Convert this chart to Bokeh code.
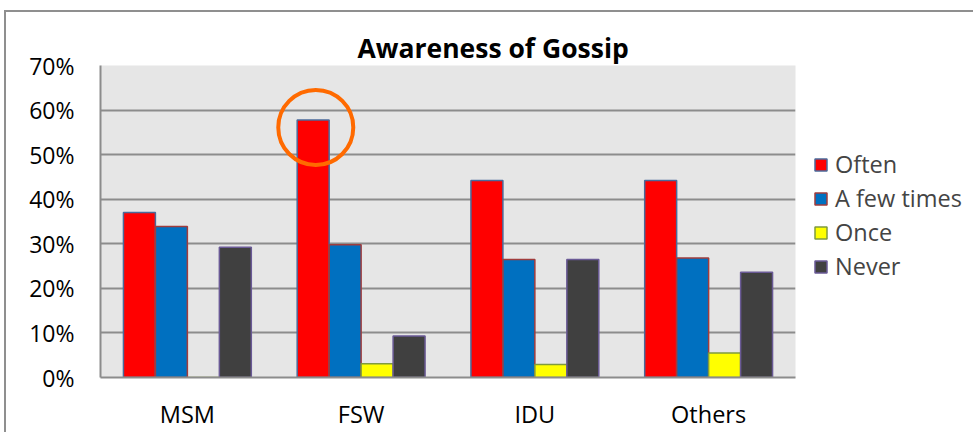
from bokeh.plotting import figure
from bokeh.models import ColumnDataSource, NumeralTickFormatter, Legend, LegendItem, Range1d
from bokeh.transform import dodge
from bokeh.embed import file_html
from bokeh.resources import INLINE

groups = ["MSM", "FSW", "IDU", "Others"]
often = [0.370, 0.578, 0.442, 0.442]
few_times = [0.339, 0.298, 0.265, 0.268]
once = [0.0, 0.031, 0.029, 0.055]
never = [0.292, 0.093, 0.265, 0.236]
series_names = ["Often", "A few times", "Once", "Never"]
y_ticks = [0, 0.1, 0.2, 0.3, 0.4, 0.5, 0.6, 0.7]

fills = ["#ff0000", "#0070c0", "#ffff00", "#404040"]
edges = ["#4a6a9a", "#a03c3c", "#7f9a3f", "#6a5a96"]
offsets = [-0.276, -0.092, 0.092, 0.276]

src = ColumnDataSource(dict(g=groups, often=often, few=few_times, once=once, never=never))

p = figure(x_range=groups, y_range=Range1d(0, 0.7),
           frame_width=695, frame_height=312,
           output_backend="svg", toolbar_location=None,
           min_border_left=94, min_border_right=170, min_border_top=53, min_border_bottom=40)
p.styles = {"border-top": "2px solid #8f8f8f", "border-left": "2px solid #8f8f8f",
            "margin-left": "4px", "margin-top": "10px"}
p.x_range.range_padding = 0
p.background_fill_color = "#e6e6e6"
p.border_fill_color = "white"
p.outline_line_color = None

renderers = []
for col, fc, ec, off in zip(["often", "few", "once", "never"], fills, edges, offsets):
    r = p.vbar(x=dodge("g", off, range=p.x_range), top=col, width=0.184, source=src,
               fill_color=fc, line_color=ec, line_width=1.5)
    renderers.append(r)

# highlight circle around FSW "Often"
csrc = ColumnDataSource(dict(x=[groups[1]], y=[often[1] - 0.017]))
p.scatter(x=dodge("x", offsets[0] + 0.015, range=p.x_range), y="y", source=csrc,
          marker="circle", size=75, fill_color=None, line_color="#ff6a00", line_width=4)

p.xgrid.grid_line_color = None
p.ygrid.grid_line_color = "#8c8c8c"
p.ygrid.grid_line_width = 2
p.yaxis.ticker = y_ticks
p.yaxis.formatter = NumeralTickFormatter(format="0%")

for ax in (p.xaxis[0], p.yaxis[0]):
    ax.axis_line_color = "#8c8c8c"
    ax.axis_line_width = 2
    ax.major_tick_line_color = None
    ax.minor_tick_line_color = None
    ax.major_label_text_font = "Open Sans"
    ax.major_label_text_color = "black"
p.yaxis.major_label_text_font_size = "23px"
p.xaxis.major_label_text_font_size = "23.5px"
p.yaxis.major_label_standoff = 20
p.xaxis.major_label_standoff = 14

p.title.text = "Awareness of Gossip"
p.title.text_font = "Open Sans"
p.title.text_font_style = "bold"
p.title.text_font_size = "26.5px"
p.title.text_color = "black"
p.title.align = "left"
p.title.offset = 257
p.title.standoff = 0

items = [LegendItem(label=n, renderers=[r]) for n, r in zip(series_names, renderers)]
legend = Legend(items=items, location=(18, 95), orientation="vertical",
                label_text_font="Open Sans", label_text_font_size="23.5px",
                glyph_width=15, glyph_height=15, label_standoff=7, spacing=2,
                padding=0, margin=0, border_line_color=None, background_fill_alpha=0)
p.add_layout(legend, "right")

open("out.html", "w").write(file_html(p, INLINE))
